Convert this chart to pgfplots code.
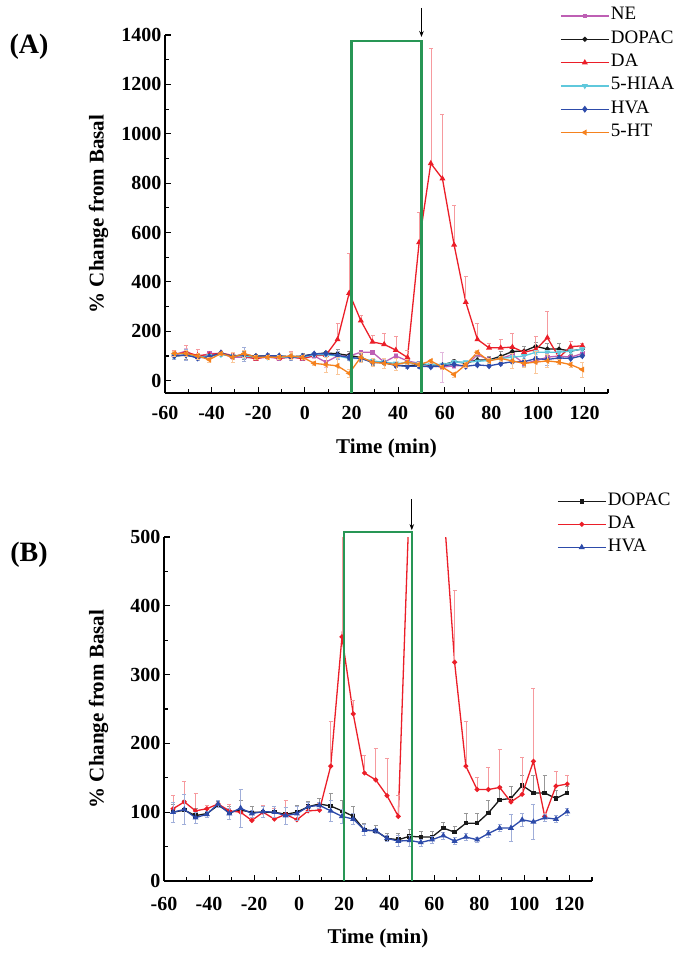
\documentclass[border=0pt]{standalone}
\usepackage{fontspec}
\setmainfont{Liberation Serif}
\usepackage{pgfplots}
\pgfplotsset{compat=1.18}
\usepackage{pgfplotstable}
\usetikzlibrary{arrows.meta}

\definecolor{cNE}{RGB}{190,95,180}
\definecolor{cDO}{RGB}{25,25,25}
\definecolor{cDA}{RGB}{235,30,40}
\definecolor{cHI}{RGB}{95,200,220}
\definecolor{cHV}{RGB}{45,75,170}
\definecolor{cHT}{RGB}{245,130,30}
\definecolor{cbox}{RGB}{40,150,85}

\pgfplotstableread{
x    NE  NEe  DO  DOe  DA  DAe  HI  HIe  HV  HVe  HT  HTe
-56  105 10   100 12   105 19   100 8    100 15   110 10
-51  120 12   103 15   115 30   105 8    104 22   110 12
-46  95  10   95  10   102 26   95  8    92  8    100 12
-41  110 8    98  8    105 5    100 6    97  5    85  10
-36  110 6    110 6    112 5    105 6    112 5    110 6
-31  95  10   100 8    102 10   100 6    98  8    95  20
-26  95  10   103 15   100 5    100 8    106 28   110 15
-21  90  8    100 8    88  15   95  6    98  5    95  8
-16  95  8    100 8    100 10   95  6    101 8    95  8
-11  90  8    100 8    90  15   95  6    100 8    95  8
-6   95  8    97  10   97  20   95  8    95  12   100 15
-1   90  8    100 10   89  10   95  8    98  10   95  8
4    100 8    108 8    102 8    105 6    108 6    70  8
9    75  20   112 8    103 10   105 6    110 5    65  30
14   100 10   109 18   167 65   100 8    102 15   60  35
19   100 10   102 15   355 159  90  8    94  10   30  15
24   115 8    94  15   243 20   90  8    90  8    95  20
29   115 8    74  10   157 26   80  6    74  8    75  15
34   75  10   73  8    147 46   75  6    73  4    70  20
39   100 10   62  8    124 54   70  6    62  5    65  25
44   80  8    60  10   94  30   72  6    58  8    75  10
49   70  8    65  10   560 120  70  6    59  8    65  8
54   60  10   64  8    880 465  65  6    56  5    80  8
59   55  60   64  8    818 262  65  6    60  5    55  8
64   60  10   77  8    550 160  75  6    66  5    25  10
69   60  10   71  8    318 104  75  6    58  5    65  10
74   105 10   84  14   167 65   78  6    64  5    115 10
79   85  10   84  14   133 18   82  6    60  4    80  10
84   90  10   99  18   133 33   90  8    69  5    90  10
89   105 10   118 20   136 56   95  8    77  5    80  30
94   70  10   120 18   115 5    100 8    77  20   70  15
99   80  10   139 15   126 54   115 8    89  10   75  45
104  95  10   128 25   174 106  115 8    86  25   80  25
109  100 10   128 25   94  5    115 8    92  5    75  10
114  95  10   120 12   138 22   120 8    90  5    65  10
119  110 10   128 10   141 12   128 8    101 5    45  30
}\datatab

\pgfplotsset{
  every axis/.append style={
    scale only axis,
    xmin=-60, xmax=130,
    axis x line*=bottom, axis y line*=left,
    axis line style={line width=1.3pt},
    tick align=inside, major tick length=6pt, minor tick length=4pt,
    tick style={line width=1.1pt, black},
    xtick={-60,-40,...,120}, minor xtick={-50,-30,...,130},
    ticklabel style={font=\bfseries\fontsize{20}{20}\selectfont},
    /pgf/number format/assume math mode=true,
    /pgf/number format/1000 sep={},
    xlabel={Time (min)}, ylabel={\% Change from Basal},
    label style={font=\bfseries\fontsize{21}{21}\selectfont},
    clip mode=individual,
    legend image code/.code={\draw[mark repeat=2,mark phase=2,#1] plot coordinates {(0pt,0pt) (24pt,0pt) (48pt,0pt)};},
    legend cell align=left,
  },
  ser/.style={color=#1, line width=1.3pt, mark size=2.2pt, mark options={solid, fill=#1},
    error bars/y dir=both, error bars/y explicit,
    error bars/error bar style={#1!45, line width=0.6pt},
    error bars/error mark options={rotate=90, mark size=2pt, #1!45, line width=0.6pt}},
  serp/.style={ser=#1, error bars/y dir=plus},
}

\begin{document}
\begin{tikzpicture}
\useasboundingbox (0,0) rectangle (685pt,-954pt);

\begin{axis}[
  at={(165pt,-393pt)}, anchor=south west,
  width=443pt, height=358pt,
  ymin=-50, ymax=1400,
  ytick={0,200,...,1400}, minor ytick={100,300,...,1300},
  xticklabel style={yshift=-10pt},
  x label style={at={(axis description cs:0.5,-0.156)},anchor=center},
  y label style={at={(axis description cs:-0.15,0.5)},anchor=center},
  legend style={at={(axis description cs:0.8916,1.083)}, anchor=north west, draw=none, fill=none,
    font=\fontsize{19}{19}\selectfont, inner sep=0pt, row sep=2.3pt,
    nodes={inner sep=1.5pt, text height=13pt, text depth=5pt}},
]
\addplot[ser=cNE, mark=square*, mark size=1.6pt] table[x=x, y=NE, y error=NEe] {\datatab};
\addlegendentry{NE}
\addplot[ser=cDO, mark=*, mark size=1.8pt] table[x=x, y=DO, y error=DOe] {\datatab};
\addlegendentry{DOPAC}
\addplot[serp=cDA, mark=triangle*] table[x=x, y=DA, y error=DAe] {\datatab};
\addlegendentry{DA}
\addplot[ser=cHI, mark=triangle*, mark options={rotate=180}] table[x=x, y=HI, y error=HIe] {\datatab};
\addlegendentry{5-HIAA}
\addplot[ser=cHV, mark=diamond*, mark size=2.5pt] table[x=x, y=HV, y error=HVe] {\datatab};
\addlegendentry{HVA}
\addplot[ser=cHT, mark=triangle*, mark options={rotate=90}] table[x=x, y=HT, y error=HTe] {\datatab};
\addlegendentry{5-HT}
\draw[draw=cbox, line width=2.2pt] (axis cs:20,-50) -- (axis cs:20,1376) -- (axis cs:50,1376) -- (axis cs:50,-50);
\draw[line width=0.9pt, -{Stealth[length=6pt,width=4.5pt]}] (axis cs:50,1510) -- (axis cs:50,1392);
\end{axis}

\begin{axis}[
  at={(164pt,-881pt)}, anchor=south west,
  width=428pt, height=344pt,
  ymin=0, ymax=500,
  ytick={0,100,...,500}, minor ytick={50,150,...,450},
  xticklabel style={yshift=-13pt},
  x label style={at={(axis description cs:0.5,-0.166)},anchor=center},
  y label style={at={(axis description cs:-0.153,0.5)},anchor=center},
  legend style={at={(axis description cs:0.918,1.135)}, anchor=north west, draw=none, fill=none,
    font=\fontsize{19}{19}\selectfont, inner sep=0pt, row sep=2pt,
    nodes={inner sep=1.5pt, text height=13pt, text depth=5pt}},
]
\addplot[serp=cDO, mark=square*, mark size=1.6pt] table[x=x, y=DO, y error=DOe] {\datatab};
\addlegendentry{DOPAC}
\addplot[serp=cDA, mark=*, mark size=1.8pt] table[x=x, y=DA, y error=DAe] {\datatab};
\addlegendentry{DA}
\addplot[ser=cHV, mark=triangle*] table[x=x, y=HV, y error=HVe] {\datatab};
\addlegendentry{HVA}
\draw[draw=cbox, line width=1.8pt] (axis cs:20,0) -- (axis cs:20,507) -- (axis cs:50,507) -- (axis cs:50,0);
\draw[line width=0.9pt, -{Stealth[length=6pt,width=4.5pt]}] (axis cs:50,555) -- (axis cs:50,510);
\end{axis}

\node[font=\bfseries\fontsize{28}{28}\selectfont] at (29pt,-47pt) {(A)};
\node[font=\bfseries\fontsize{28}{28}\selectfont] at (29pt,-555pt) {(B)};
\end{tikzpicture}
\end{document}
